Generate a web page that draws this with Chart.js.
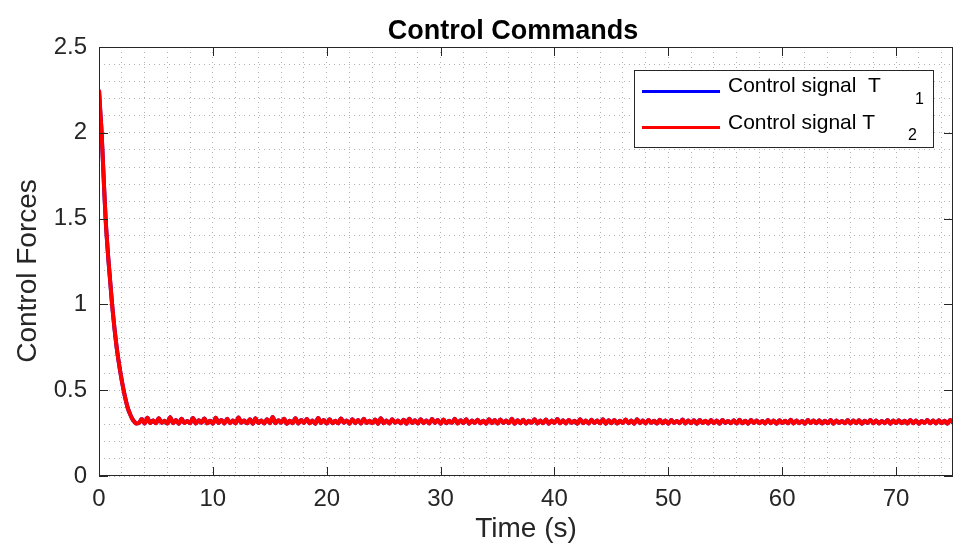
<!DOCTYPE html>
<html>
<head>
<meta charset="utf-8">
<script src="https://cdn.jsdelivr.net/npm/chart.js@4.4.1/dist/chart.umd.min.js"></script>
<style>
  html, body { margin: 0; padding: 0; background: #fff; }
  #wrap { width: 953px; height: 547px; position: relative; }
</style>
</head>
<body>
<div id="wrap"><canvas id="cmdChart"></canvas></div>
<script>
// descida inicial (tempo em s, força)
const transientTime = [0, 0.1, 0.23, 0.4, 0.58, 0.85, 1.15, 1.55, 1.85, 2.16, 2.51, 2.8, 2.95, 3.1, 3.25];
const transientForce = [2.25, 2.14, 2.0, 1.75, 1.5, 1.24, 1.0, 0.75, 0.615, 0.5, 0.4, 0.35, 0.33, 0.317, 0.306];

// regime permanente, amostras a cada 0.25 s a partir de 3.5 s
const steadyStart = 3.5;
const steadyStep = 0.25;
const steadyForce = [
  0.308, 0.332, 0.306, 0.340, 0.309, 0.324, 0.307, 0.336, 0.310, 0.322, 0.306, 0.343, 0.308, 0.326, 0.305, 0.334, 0.309, 0.321, 0.307, 0.338,
  0.306, 0.325, 0.310, 0.335, 0.307, 0.322, 0.305, 0.339, 0.309, 0.327, 0.306, 0.333, 0.308, 0.323, 0.306, 0.341, 0.310, 0.324, 0.307, 0.330,
  0.305, 0.336, 0.309, 0.323, 0.306, 0.331, 0.308, 0.344, 0.307, 0.325, 0.310, 0.334, 0.305, 0.322, 0.308, 0.337, 0.306, 0.326, 0.309, 0.332,
  0.307, 0.323, 0.305, 0.338, 0.309, 0.326, 0.306, 0.331, 0.308, 0.322, 0.307, 0.335, 0.310, 0.324, 0.305, 0.330, 0.308, 0.327, 0.306, 0.333,
  0.309, 0.322, 0.307, 0.329, 0.305, 0.336, 0.308, 0.324, 0.306, 0.331, 0.310, 0.323, 0.307, 0.328, 0.305, 0.334, 0.309, 0.325, 0.306, 0.330,
  0.308, 0.323, 0.306, 0.332, 0.309, 0.326, 0.305, 0.329, 0.307, 0.322, 0.310, 0.333, 0.306, 0.325, 0.308, 0.330, 0.305, 0.324, 0.309, 0.328,
  0.307, 0.322, 0.305, 0.331, 0.308, 0.326, 0.306, 0.329, 0.309, 0.323, 0.307, 0.334, 0.305, 0.325, 0.308, 0.328, 0.306, 0.322, 0.310, 0.330,
  0.306, 0.324, 0.308, 0.329, 0.305, 0.323, 0.309, 0.332, 0.307, 0.325, 0.306, 0.327, 0.310, 0.322, 0.305, 0.331, 0.308, 0.324, 0.306, 0.328,
  0.309, 0.323, 0.307, 0.330, 0.305, 0.325, 0.308, 0.327, 0.306, 0.322, 0.309, 0.329, 0.307, 0.324, 0.305, 0.331, 0.308, 0.323, 0.306, 0.327,
  0.310, 0.322, 0.306, 0.328, 0.308, 0.324, 0.305, 0.326, 0.309, 0.321, 0.307, 0.329, 0.306, 0.323, 0.308, 0.325, 0.305, 0.327, 0.309, 0.322,
  0.306, 0.326, 0.308, 0.323, 0.305, 0.327, 0.309, 0.321, 0.307, 0.325, 0.306, 0.328, 0.308, 0.322, 0.305, 0.326, 0.309, 0.324, 0.307, 0.321,
  0.306, 0.327, 0.308, 0.323, 0.305, 0.325, 0.309, 0.322, 0.307, 0.328, 0.306, 0.324, 0.308, 0.321, 0.305, 0.326, 0.309, 0.323, 0.307, 0.325,
  0.306, 0.322, 0.308, 0.327, 0.305, 0.324, 0.309, 0.321, 0.307, 0.326, 0.306, 0.323, 0.308, 0.325, 0.305, 0.322, 0.309, 0.327, 0.307, 0.324,
  0.306, 0.321, 0.308, 0.326, 0.305, 0.323, 0.309, 0.325, 0.307, 0.322, 0.306, 0.327, 0.308, 0.324, 0.305, 0.321, 0.309, 0.326, 0.307, 0.323,
  0.306, 0.325, 0.308, 0.322, 0.305, 0.326, 0.309
];

const xMajorTicks = [0, 10, 20, 30, 40, 50, 60, 70];
const yMajorTicks = [0, 0.5, 1, 1.5, 2, 2.5];
const xMinorStep = 2;
const yMinorStep = 0.1;

const FONT = '"Liberation Sans", Arial, Helvetica, sans-serif';
const AXIS_COLOR = '#262626';

// T1 e T2 praticamente coincidem no gráfico
const t2Points = transientTime.map((t, i) => ({ x: t, y: transientForce[i] }))
  .concat(steadyForce.map((v, i) => ({ x: steadyStart + i * steadyStep, y: v })));
const t1Points = t2Points.slice();

function minorTicks(min, max, step) {
  const out = [];
  for (let v = min; v <= max + 1e-9; v += step) out.push({ value: Math.round(v * 1000) / 1000 });
  return out;
}

function isMajor(list, v) {
  return list.some(m => Math.abs(m - v) < 1e-6);
}

const frameAndLabels = {
  id: 'frameAndLabels',
  afterDraw(chart) {
    const ctx = chart.ctx;
    const a = chart.chartArea;
    const xs = chart.scales.x, ys = chart.scales.y;
    ctx.save();

    // moldura e marcas internas
    ctx.strokeStyle = AXIS_COLOR;
    ctx.lineWidth = 1;
    ctx.strokeRect(a.left + 0.5, a.top + 0.5, a.right - a.left - 1, a.bottom - a.top - 1);
    ctx.beginPath();
    const tl = 9;
    xMajorTicks.forEach(v => {
      const px = Math.round(xs.getPixelForValue(v)) + 0.5;
      ctx.moveTo(px, a.bottom); ctx.lineTo(px, a.bottom - tl);
      ctx.moveTo(px, a.top); ctx.lineTo(px, a.top + tl);
    });
    yMajorTicks.forEach(v => {
      const py = Math.round(ys.getPixelForValue(v)) + 0.5;
      ctx.moveTo(a.left, py); ctx.lineTo(a.left + tl, py);
      ctx.moveTo(a.right, py); ctx.lineTo(a.right - tl, py);
    });
    ctx.stroke();

    // título e rótulos dos eixos
    ctx.fillStyle = '#000';
    ctx.textAlign = 'center';
    ctx.textBaseline = 'alphabetic';
    ctx.font = 'bold 27px ' + FONT;
    ctx.fillText('Control Commands', 513, 39);

    ctx.fillStyle = '#262626';
    ctx.font = '28px ' + FONT;
    ctx.fillText('Time (s)', (a.left + a.right) / 2, 537);

    ctx.save();
    ctx.translate(36, 271);
    ctx.rotate(-Math.PI / 2);
    ctx.fillText('Control Forces', 0, 0);
    ctx.restore();

    // legenda
    const lx = 634, ly = 70, lw = 299, lh = 77;
    ctx.fillStyle = '#fff';
    ctx.fillRect(lx, ly, lw, lh);
    ctx.strokeStyle = AXIS_COLOR;
    ctx.strokeRect(lx + 0.5, ly + 0.5, lw, lh);

    ctx.lineWidth = 3;
    ctx.strokeStyle = '#0000ff';
    ctx.beginPath(); ctx.moveTo(642, 91.5); ctx.lineTo(720, 91.5); ctx.stroke();
    ctx.strokeStyle = '#ff0000';
    ctx.beginPath(); ctx.moveTo(642, 127.5); ctx.lineTo(720, 127.5); ctx.stroke();

    ctx.fillStyle = '#000';
    ctx.textAlign = 'left';
    ctx.font = '21px ' + FONT;
    ctx.fillText('Control signal  T', 728, 92);
    ctx.fillText('Control signal T', 728, 129);
    ctx.font = '16px ' + FONT;
    ctx.fillText('1', 915, 104);
    ctx.fillText('2', 908, 140);

    ctx.restore();
  }
};

new Chart(document.getElementById('cmdChart').getContext('2d'), {
  type: 'line',
  data: {
    datasets: [
      {
        label: 'Control signal T1',
        data: t1Points,
        borderColor: '#0000ff',
        borderWidth: 4,
        pointRadius: 0,
        cubicInterpolationMode: 'monotone',
        order: 1
      },
      {
        label: 'Control signal T2',
        data: t2Points,
        borderColor: '#ff0000',
        borderWidth: 4,
        pointRadius: 0,
        cubicInterpolationMode: 'monotone',
        order: 0
      }
    ]
  },
  options: {
    responsive: true,
    maintainAspectRatio: false,
    animation: false,
    layout: { padding: { top: 47, right: 0, left: 0, bottom: 0 } },
    plugins: {
      legend: { display: false },
      tooltip: { enabled: false },
      title: { display: false }
    },
    scales: {
      x: {
        type: 'linear',
        min: 0,
        max: 75,
        afterBuildTicks: scale => { scale.ticks = minorTicks(0, 74, xMinorStep); },
        afterFit: scale => { scale.height = 71; },
        border: { display: false, dash: [1, 4] },
        grid: { color: 'rgba(0,0,0,0.3)', lineWidth: 1, drawTicks: false },
        ticks: {
          autoSkip: false,
          maxRotation: 0,
          padding: 9,
          color: '#262626',
          font: { family: FONT, size: 24 },
          callback: v => isMajor(xMajorTicks, v) ? String(v) : ''
        }
      },
      y: {
        type: 'linear',
        min: 0,
        max: 2.5,
        afterBuildTicks: scale => { scale.ticks = minorTicks(0, 2.5, yMinorStep); },
        afterFit: scale => { scale.width = 99; },
        border: { display: false, dash: [1, 4] },
        grid: { color: 'rgba(0,0,0,0.3)', lineWidth: 1, drawTicks: false },
        ticks: {
          autoSkip: false,
          padding: 12,
          color: '#262626',
          font: { family: FONT, size: 24 },
          callback: v => isMajor(yMajorTicks, v) ? String(Math.round(v * 10) / 10) : ''
        }
      }
    }
  },
  plugins: [frameAndLabels]
});
</script>
</body>
</html>
